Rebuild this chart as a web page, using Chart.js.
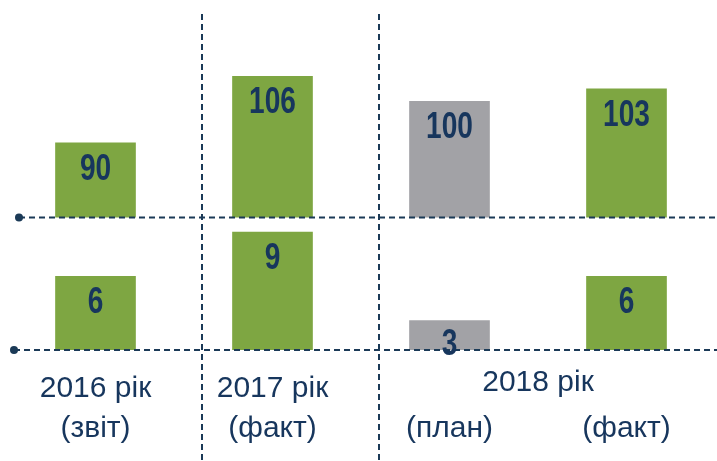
<!DOCTYPE html>
<html><head><meta charset="utf-8">
<script src="https://cdn.jsdelivr.net/npm/chart.js@4/dist/chart.umd.min.js"></script>
<style>html,body{margin:0;padding:0;background:#fff;overflow:hidden}#wrap{width:717px;height:461px}</style>
</head><body><div id="wrap"><canvas id="c" width="717" height="461"></canvas></div>
<script>
// ---- data ----
const periodLabels = [["2016 рік","(звіт)"],["2017 рік","(факт)"],["","(план)"],["","(факт)"]];
const groupLabel2018 = "2018 рік";
const upperValues = [90, 106, 100, 103];
const lowerValues = [6, 9, 3, 6];
const barKinds = ["fact", "fact", "plan", "fact"];

// ---- styles ----
const GREEN = '#7EA642', GRAY = '#A2A2A6', NAVY = '#17365D', LINE = '#1B3A57';
const kindColor = k => k === 'plan' ? GRAY : GREEN;
const LABEL_FONT = '"Liberation Sans", Arial, sans-serif';

const overlay = {
  id: 'overlay',
  afterDatasetsDraw(chart) {
    const ctx = chart.ctx, x = chart.scales.x, y1 = chart.scales.y1, y2 = chart.scales.y2;
    const ca = chart.chartArea;
    ctx.save();
    const bases = [[y1.getPixelForValue(y1.min), ca.left + 12], [y2.getPixelForValue(y2.min), ca.left + 7]];
    ctx.strokeStyle = LINE; ctx.fillStyle = LINE; ctx.lineWidth = 2; ctx.setLineDash([6, 4]);
    bases.forEach(([py, sx]) => { ctx.beginPath(); ctx.moveTo(sx, py); ctx.lineTo(chart.width, py); ctx.stroke(); });
    ctx.setLineDash([]);
    bases.forEach(([py, sx]) => { ctx.beginPath(); ctx.arc(sx, py, 4, 0, Math.PI * 2); ctx.fill(); });
    // vertical separators between periods
    ctx.setLineDash([6, 4]);
    [0, 1].forEach(i => {
      const a = x.getPixelForValue(i), b = x.getPixelForValue(i + 1);
      const px = Math.round(a + 0.6 * (b - a));
      ctx.beginPath(); ctx.moveTo(px, ca.top + 4); ctx.lineTo(px, chart.height); ctx.stroke();
    });
    ctx.setLineDash([]);
    // value labels
    const narrow = 'bold 36px "Liberation Sans Narrow", "Arial Narrow"';
    const wide = 'bold 36px "Liberation Sans", Arial, sans-serif';
    ctx.font = wide; const wW = ctx.measureText('106').width;
    ctx.font = narrow + ', "Liberation Sans", Arial, sans-serif'; const wN = ctx.measureText('106').width;
    const sx = Math.abs(wW - wN) < 0.5 ? 0.78 : 1;
    ctx.fillStyle = NAVY; ctx.textAlign = 'center'; ctx.textBaseline = 'middle';
    chart.data.datasets.forEach((ds, di) => {
      chart.getDatasetMeta(di).data.forEach((bar, i) => {
        const h = bar.base - bar.y;
        const cy = bar.y + Math.min(25, h / 2);
        ctx.save(); ctx.translate(bar.x, cy); ctx.scale(sx, 1);
        ctx.fillText(String(ds.data[i]), 0, 2);
        ctx.restore();
      });
    });
    // group label for 2018
    ctx.font = '30px ' + LABEL_FONT;
    const gx = (x.getPixelForValue(2) + x.getPixelForValue(3)) / 2;
    ctx.fillText(groupLabel2018, gx, ca.bottom + 19 + 20 - 6);
    ctx.restore();
  }
};

new Chart(document.getElementById('c'), {
  type: 'bar',
  data: {
    labels: periodLabels,
    datasets: [
      { label: 'upper', data: upperValues, yAxisID: 'y1', backgroundColor: barKinds.map(kindColor), barThickness: 80, grouped: false },
      { label: 'lower', data: lowerValues, yAxisID: 'y2', backgroundColor: barKinds.map(kindColor), barThickness: 80, grouped: false }
    ]
  },
  options: {
    responsive: false, animation: false, devicePixelRatio: 1,
    layout: { padding: { left: 7, right: 2, top: 10, bottom: -7 } },
    plugins: { legend: { display: false }, tooltip: { enabled: false } },
    scales: {
      x: {
        type: 'category', offset: true,
        grid: { display: false, drawTicks: false }, border: { display: false },
        ticks: { color: NAVY, padding: 19, autoSkip: false, maxRotation: 0,
          font: { family: LABEL_FONT, size: 30, lineHeight: '40px' } }
      },
      y2: { type: 'linear', display: false, stack: 'rows', stackWeight: 133, min: 1, max: 10 },
      y1: { type: 'linear', display: false, stack: 'rows', stackWeight: 208, min: 72, max: 122 }
    }
  },
  plugins: [overlay]
});
</script></body></html>
